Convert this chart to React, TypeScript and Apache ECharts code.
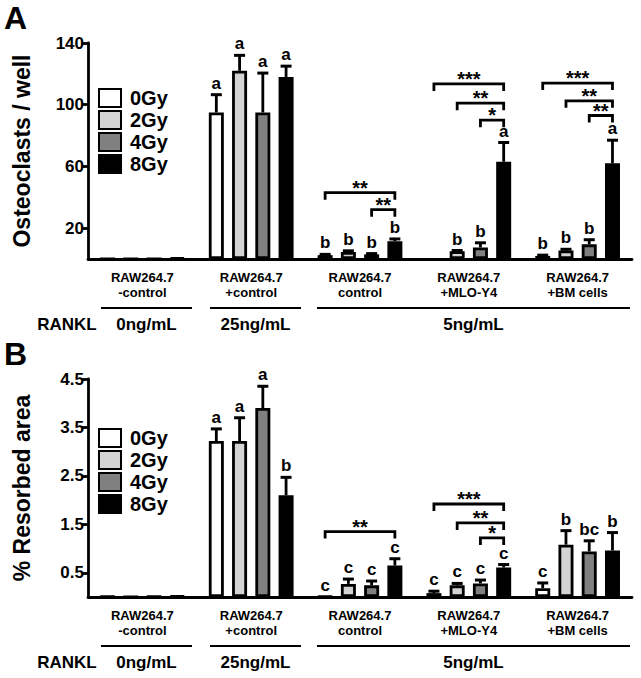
import React, { useEffect, useRef } from "react";
import * as echarts from "echarts";

const FONT = "'Liberation Sans', Arial, Helvetica, sans-serif";

// ---------- data ----------
const categories = [
  "RAW264.7\n-control",
  "RAW264.7\n+control",
  "RAW264.7\ncontrol",
  "RAW264.7\n+MLO-Y4",
  "RAW264.7\n+BM cells",
];
const doses = ["0Gy", "2Gy", "4Gy", "8Gy"];
const doseColors = ["#ffffff", "#d4d4d4", "#808080", "#000000"];

// Panel A: Osteoclasts / well
const osteo0Gy = [0, 95, 2.5, null, 2];
const osteo2Gy = [0, 122, 4.5, 5, 5.5];
const osteo4Gy = [0, 95, 3, 7.5, 9.5];
const osteo8Gy = [0.8, 118, 11.5, 63, 62];
const osteoErr0Gy = [0, 11.5, 0.5, 0, 0.5];
const osteoErr2Gy = [0, 10, 0.8, 0.5, 0.8];
const osteoErr4Gy = [0, 25.5, 0.5, 3, 3];
const osteoErr8Gy = [0, 7, 1.5, 12.5, 15];
const osteoLetters0Gy = ["", "a", "b", "", "b"];
const osteoLetters2Gy = ["", "a", "b", "b", "b"];
const osteoLetters4Gy = ["", "a", "b", "b", "b"];
const osteoLetters8Gy = ["", "a", "b", "a", "a"];
const osteoTicks = [20, 60, 100, 140];
// [category, from dose, to dose, y value, label]
const osteoBrackets: [number, number, number, number, string][] = [
  [2, 0, 3, 43, "**"],
  [2, 2, 3, 32, "**"],
  [3, 0, 3, 113.5, "***"],
  [3, 1, 3, 101, "**"],
  [3, 2, 3, 90, "*"],
  [4, 0, 3, 114, "***"],
  [4, 1, 3, 102.5, "**"],
  [4, 2, 3, 93, "**"],
];

// Panel B: % Resorbed area
const res0Gy = [0.01, 3.22, 0.01, 0.08, 0.18];
const res2Gy = [0, 3.22, 0.27, 0.24, 1.08];
const res4Gy = [0.01, 3.9, 0.24, 0.28, 0.94];
const res8Gy = [0.02, 2.1, 0.65, 0.61, 0.96];
const resErr0Gy = [0, 0.25, 0, 0.04, 0.11];
const resErr2Gy = [0, 0.48, 0.1, 0.04, 0.29];
const resErr4Gy = [0, 0.45, 0.09, 0.07, 0.22];
const resErr8Gy = [0, 0.37, 0.14, 0.06, 0.37];
const resLetters0Gy = ["", "a", "c", "c", "c"];
const resLetters2Gy = ["", "a", "c", "c", "b"];
const resLetters4Gy = ["", "a", "c", "c", "bc"];
const resLetters8Gy = ["", "b", "c", "c", "b"];
const resTicks = [0.5, 1.5, 2.5, 3.5, 4.5];
const resBrackets: [number, number, number, number, string][] = [
  [2, 0, 3, 1.35, "**"],
  [3, 0, 3, 1.92, "***"],
  [3, 1, 3, 1.53, "**"],
  [3, 2, 3, 1.22, "*"],
];

const ranklLabels = ["0ng/mL", "25ng/mL", "5ng/mL"];

// ---------- layout ----------
const GRID_LEFT = 88;
const GRID_WIDTH = 544;
const PANELS = [
  { top: 43, height: 216, max: 140, name: "Osteoclasts / well", letter: "A", legendTop: 88 },
  { top: 379, height: 218, max: 4.5, name: "% Resorbed area", letter: "B", legendTop: 428 },
];
const BAR_W = 15;
const BAR_GAP = 0.55;
const STEP = BAR_W * (1 + BAR_GAP);
const offset = (i: number) => (i - 1.5) * STEP;

const panelData = [
  {
    values: [osteo0Gy, osteo2Gy, osteo4Gy, osteo8Gy],
    errs: [osteoErr0Gy, osteoErr2Gy, osteoErr4Gy, osteoErr8Gy],
    letters: [osteoLetters0Gy, osteoLetters2Gy, osteoLetters4Gy, osteoLetters8Gy],
    ticks: osteoTicks,
    brackets: osteoBrackets,
  },
  {
    values: [res0Gy, res2Gy, res4Gy, res8Gy],
    errs: [resErr0Gy, resErr2Gy, resErr4Gy, resErr8Gy],
    letters: [resLetters0Gy, resLetters2Gy, resLetters4Gy, resLetters8Gy],
    ticks: resTicks,
    brackets: resBrackets,
  },
];

function buildOption() {
  const grid: any[] = [];
  const xAxis: any[] = [];
  const yAxis: any[] = [];
  const series: any[] = [];
  const legend: any[] = [];
  const graphic: any[] = [];

  PANELS.forEach((P, p) => {
    const D = panelData[p];
    grid.push({ left: GRID_LEFT, top: P.top, width: GRID_WIDTH, height: P.height });
    xAxis.push({
      type: "category",
      gridIndex: p,
      data: categories,
      axisLine: { lineStyle: { color: "#000", width: 2.8 } },
      axisTick: { alignWithLabel: true, length: 7, lineStyle: { color: "#000", width: 2.8 } },
      axisLabel: {
        interval: 0,
        color: "#000",
        fontFamily: FONT,
        fontWeight: "bold",
        fontSize: 13,
        lineHeight: 15,
        margin: 11,
      },
    });
    yAxis.push({
      type: "value",
      gridIndex: p,
      min: 0,
      max: P.max,
      splitLine: { show: false },
      axisLine: { show: true, lineStyle: { color: "#000", width: 2.8 } },
      axisTick: { show: true, length: 6, lineStyle: { color: "#000", width: 2.8 }, customValues: D.ticks },
      axisLabel: {
        customValues: D.ticks,
        color: "#000",
        fontFamily: FONT,
        fontWeight: "bold",
        fontSize: 17,
        margin: 4,
      },
      name: P.name,
      nameLocation: "middle",
      nameGap: 55,
      nameRotate: 90,
      nameTextStyle: { color: "#000", fontFamily: FONT, fontWeight: "bold", fontSize: 23 },
    });

    doses.forEach((d, g) => {
      series.push({
        type: "bar",
        name: d,
        xAxisIndex: p,
        yAxisIndex: p,
        data: D.values[g],
        barWidth: BAR_W,
        barGap: `${BAR_GAP * 100}%`,
        itemStyle: { color: doseColors[g], borderColor: "#000", borderWidth: 2.8 },
      });
    });

    // error bars and letters
    const rows: { cat: number; gy: number; mean: number; err: number; letter: string }[] = [];
    doses.forEach((_, g) => {
      D.values[g].forEach((v, c) => {
        if (v === null || v === undefined) return;
        rows.push({ cat: c, gy: g, mean: v as number, err: D.errs[g][c] || 0, letter: D.letters[g][c] });
      });
    });
    series.push({
      type: "custom",
      xAxisIndex: p,
      yAxisIndex: p,
      z: 5,
      silent: true,
      clip: false,
      data: rows.map((r) => [r.cat, r.mean + r.err]),
      encode: { x: 0, y: 1 },
      renderItem: (params: any, api: any) => {
        const r = rows[params.dataIndex];
        const base = api.coord([r.cat, r.mean]);
        const top = api.coord([r.cat, r.mean + r.err]);
        const x = base[0] + offset(r.gy);
        const children: any[] = [];
        if (r.err > 0) {
          children.push({
            type: "line",
            shape: { x1: x, y1: base[1], x2: x, y2: top[1] },
            style: { stroke: "#000", lineWidth: 2.8 },
          });
          children.push({
            type: "line",
            shape: { x1: x - 5.5, y1: top[1], x2: x + 5.5, y2: top[1] },
            style: { stroke: "#000", lineWidth: 3 },
          });
        }
        if (r.letter) {
          children.push({
            type: "text",
            x,
            y: top[1] - 3,
            style: {
              text: r.letter,
              fill: "#000",
              font: `bold 17px ${FONT}`,
              align: "center",
              verticalAlign: "bottom",
            },
          });
        }
        return { type: "group", children };
      },
    });

    // significance brackets
    series.push({
      type: "custom",
      xAxisIndex: p,
      yAxisIndex: p,
      z: 6,
      silent: true,
      clip: false,
      data: D.brackets.map((b) => [b[0], b[3]]),
      encode: { x: 0, y: 1 },
      renderItem: (params: any, api: any) => {
        const b = D.brackets[params.dataIndex];
        const pt = api.coord([b[0], b[3]]);
        const x1 = pt[0] + offset(b[1]);
        const x2 = pt[0] + offset(b[2]);
        const y = pt[1];
        return {
          type: "group",
          children: [
            {
              type: "polyline",
              shape: { points: [[x1, y + 7], [x1, y], [x2, y], [x2, y + 7]] },
              style: { stroke: "#000", lineWidth: 2.8, fill: "none" },
            },
            {
              type: "text",
              x: (x1 + x2) / 2,
              y: y - 5,
              style: {
                text: b[4],
                fill: "#000",
                font: `bold 20px ${FONT}`,
                lineHeight: 10,
                align: "center",
                verticalAlign: "middle",
              },
            },
          ],
        };
      },
    });

    legend.push({
      data: doses,
      orient: "vertical",
      left: 93,
      top: P.legendTop - 5,
      itemWidth: 22,
      itemHeight: 18,
      itemGap: 2,
      icon: "rect",
      selectedMode: false,
      textStyle: { color: "#000", fontFamily: FONT, fontWeight: "bold", fontSize: 20, padding: [0, 0, 0, 4] },
    });

    // panel letter
    graphic.push({
      type: "text",
      left: 4,
      top: P.top - 41,
      style: { text: P.letter, fill: "#000", font: `bold 32px ${FONT}` },
    });

    // RANKL rows
    const lineY = P.top + P.height + 49;
    const textY = lineY + 16;
    const segs = [
      [101, 192],
      [210, 301],
      [317, 630],
    ];
    segs.forEach((s, i) => {
      graphic.push({
        type: "line",
        shape: { x1: s[0], y1: lineY, x2: s[1], y2: lineY },
        style: { stroke: "#000", lineWidth: 2.2 },
      });
      graphic.push({
        type: "text",
        x: (s[0] + s[1]) / 2,
        y: textY,
        style: {
          text: ranklLabels[i],
          fill: "#000",
          font: `bold 17px ${FONT}`,
          align: "center",
          verticalAlign: "middle",
        },
      });
    });
    graphic.push({
      type: "text",
      x: 67,
      y: textY,
      style: {
        text: "RANKL",
        fill: "#000",
        font: `bold 17px ${FONT}`,
        align: "center",
        verticalAlign: "middle",
      },
    });
  });

  return {
    animation: false,
    backgroundColor: "#fff",
    textStyle: { fontFamily: FONT },
    grid,
    xAxis,
    yAxis,
    legend,
    series,
    graphic,
  };
}

export default function App() {
  const ref = useRef<HTMLDivElement>(null);
  useEffect(() => {
    if (!ref.current) return;
    const chart = echarts.init(ref.current, null, { renderer: "svg" });
    chart.setOption(buildOption() as any);
    return () => chart.dispose();
  }, []);
  return (
    <div
      ref={ref}
      style={{ position: "fixed", left: 0, top: 0, width: 641, height: 678, background: "#fff" }}
    />
  );
}
